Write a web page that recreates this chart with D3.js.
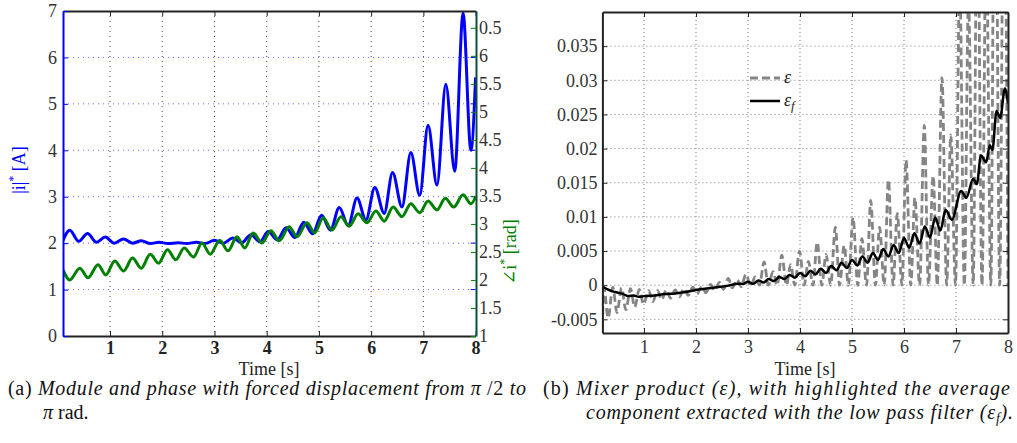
<!DOCTYPE html>
<html>
<head>
<meta charset="utf-8">
<script src="https://cdn.jsdelivr.net/npm/d3@7"></script>
<style>
  body { margin: 0; background: #fff; }
  svg, svg text { font-family: "Liberation Serif", "DejaVu Serif", serif; }
  svg { display: block; }
</style>
</head>
<body>
<svg id="fig" width="1017" height="443"></svg>
<script>
// ---- data ----
// panel (a): time ticks, magnitude ticks (left), phase ticks (right)
const timeTicks = [1, 2, 3, 4, 5, 6, 7, 8];
const magTicks = [0, 1, 2, 3, 4, 5, 6, 7];
const phaseTicks = [1, 1.5, 2, 2.5, 3, 3.5, 4, 4.5, 5, 5.5, 6, 6.5];
const phaseTickLabels = ["1", "1.5", "2", "2.5", "3", "3.5", "4", "4.5", "5", "5.5", "6", "0.5"];

// |i|* [A] -- peaks and troughs of the blue trace [t, value]
const magPts = [
  [0.10, 2.06], [0.23, 2.28], [0.40, 2.04], [0.57, 2.21], [0.74, 2.02], [0.91, 2.13],
  [1.08, 2.00], [1.26, 2.09], [1.43, 2.00], [1.60, 2.05], [1.77, 1.99], [1.94, 2.02],
  [2.11, 1.99], [2.30, 2.01], [2.47, 1.99], [2.65, 2.02], [2.82, 1.99], [3.00, 2.06],
  [3.17, 2.00], [3.35, 2.11], [3.52, 2.01], [3.70, 2.18], [3.87, 2.03], [4.03, 2.25],
  [4.20, 2.07], [4.37, 2.33], [4.54, 2.12], [4.71, 2.45], [4.88, 2.20], [5.05, 2.60],
  [5.22, 2.28], [5.39, 2.77], [5.56, 2.38], [5.73, 2.97], [5.90, 2.50], [6.07, 3.20],
  [6.25, 2.64], [6.41, 3.52], [6.59, 2.78], [6.76, 3.95], [6.93, 3.03], [7.09, 4.54],
  [7.26, 3.25], [7.43, 5.42], [7.60, 3.55], [7.76, 6.95], [7.91, 4.00], [8.00, 5.57]
];

// angle i* [rad] -- green trace [t, value]
const phasePts = [
  [0.10, 2.18], [0.23, 2.00], [0.42, 2.21], [0.58, 2.04], [0.77, 2.27], [0.92, 2.09],
  [1.09, 2.34], [1.26, 2.16], [1.43, 2.39], [1.60, 2.21], [1.77, 2.46], [1.93, 2.30],
  [2.10, 2.54], [2.26, 2.36], [2.42, 2.57], [2.60, 2.41], [2.76, 2.66], [2.92, 2.46],
  [3.10, 2.71], [3.26, 2.52], [3.43, 2.77], [3.58, 2.57], [3.74, 2.84], [3.91, 2.66],
  [4.08, 2.88], [4.24, 2.70], [4.43, 2.95], [4.58, 2.77], [4.77, 3.02], [4.92, 2.84],
  [5.08, 3.11], [5.25, 2.89], [5.42, 3.13], [5.58, 2.96], [5.75, 3.18], [5.92, 3.02],
  [6.09, 3.23], [6.25, 3.05], [6.42, 3.30], [6.59, 3.13], [6.76, 3.36], [6.93, 3.20],
  [7.09, 3.41], [7.26, 3.25], [7.42, 3.46], [7.58, 3.30], [7.76, 3.52], [7.91, 3.36],
  [8.00, 3.48]
];

// panel (b): mixer product ticks
const mixTicks = [-0.005, 0, 0.005, 0.01, 0.015, 0.02, 0.025, 0.03, 0.035];
const mixTickLabels = ["-0.005", "0", "0.005", "0.01", "0.015", "0.02", "0.025", "0.03", "0.035"];

// epsilon (grey dashed) -- extremes [t, value]
const mixPts = [
  [0.20, -0.0062], [0.23, -0.0004], [0.31, -0.0048], [0.40, -0.0003], [0.48, -0.0040],
  [0.57, -0.0004], [0.65, -0.0036], [0.74, -0.0005], [0.82, -0.0032], [0.91, -0.0006],
  [0.99, -0.0028], [1.09, -0.0008], [1.17, -0.0024], [1.26, -0.0008], [1.34, -0.0021],
  [1.43, -0.0007], [1.51, -0.0019], [1.60, -0.0007], [1.68, -0.0017], [1.77, -0.0005],
  [1.85, -0.0015], [1.94, -0.0003], [2.02, -0.0013], [2.11, -0.0002], [2.19, -0.0011],
  [2.28, 0.0001], [2.36, -0.0008], [2.45, 0.0004], [2.53, -0.0006], [2.62, 0.0010],
  [2.70, -0.0004], [2.79, 0.0008], [2.87, -0.0002], [2.96, 0.0016], [3.05, -0.0001],
  [3.14, 0.0012], [3.22, 0.0000], [3.31, 0.0034], [3.39, 0.0000], [3.48, 0.0020],
  [3.56, 0.0000], [3.65, 0.0044], [3.74, 0.0000], [3.82, 0.0030], [3.90, 0.0000],
  [3.99, 0.0050], [4.08, 0.0000], [4.16, 0.0035], [4.25, 0.0000], [4.33, 0.0063],
  [4.42, 0.0000], [4.50, 0.0045], [4.59, 0.0000], [4.68, 0.0085], [4.76, 0.0000],
  [4.85, 0.0058], [4.93, 0.0000], [5.02, 0.0099], [5.11, 0.0000], [5.19, 0.0068],
  [5.28, 0.0000], [5.36, 0.0124], [5.45, 0.0000], [5.53, 0.0085], [5.62, 0.0000],
  [5.70, 0.0154], [5.79, 0.0000], [5.87, 0.0105], [5.96, 0.0000], [6.04, 0.0183],
  [6.13, 0.0000], [6.21, 0.0128], [6.30, 0.0000], [6.39, 0.0234], [6.47, 0.0000],
  [6.56, 0.0160], [6.64, 0.0000], [6.73, 0.0304], [6.82, 0.0000], [6.90, 0.0220],
  [6.99, 0.0000], [7.07, 0.0450], [7.16, 0.0000], [7.24, 0.0420], [7.33, 0.0000],
  [7.41, 0.0600], [7.50, 0.0000], [7.58, 0.0520], [7.67, 0.0000], [7.75, 0.0800],
  [7.84, 0.0000], [7.92, 0.0650], [8.00, 0.0000]
];

// epsilon_f (black) -- low pass output [t, value]
const filtPts = [
  [0.20, -0.0002], [0.30, -0.0006], [0.40, -0.0009], [0.50, -0.0011], [0.60, -0.0013],
  [0.70, -0.0016], [0.80, -0.0015], [0.90, -0.0017], [1.00, -0.0016], [1.20, -0.0015],
  [1.40, -0.0013], [1.60, -0.0012], [1.80, -0.0010], [2.00, -0.0007], [2.20, -0.0005],
  [2.40, -0.0003], [2.60, -0.0001], [2.80, 0.0002], [2.90, 0.0002],
  [3.00, 0.0005], [3.10, 0.0002], [3.20, 0.0007], [3.30, 0.0004], [3.40, 0.0009],
  [3.50, 0.0006], [3.60, 0.0012], [3.70, 0.0009], [3.80, 0.0015], [3.90, 0.0011],
  [4.00, 0.0018], [4.10, 0.0013], [4.20, 0.0021], [4.30, 0.0016], [4.40, 0.0024],
  [4.50, 0.0018], [4.60, 0.0028], [4.70, 0.0022], [4.80, 0.0033], [4.90, 0.0025],
  [5.00, 0.0037], [5.10, 0.0029], [5.20, 0.0042], [5.30, 0.0033], [5.40, 0.0047],
  [5.50, 0.0037], [5.60, 0.0053], [5.70, 0.0042], [5.80, 0.0059], [5.90, 0.0047],
  [6.00, 0.0069], [6.10, 0.0055], [6.20, 0.0076], [6.30, 0.0061], [6.40, 0.0086],
  [6.50, 0.0070], [6.60, 0.0099], [6.70, 0.0080], [6.80, 0.0110], [6.92, 0.0096],
  [7.10, 0.0138], [7.20, 0.0128], [7.33, 0.0156], [7.40, 0.0148], [7.48, 0.0190],
  [7.58, 0.0180], [7.65, 0.0205], [7.70, 0.0198], [7.78, 0.0255], [7.85, 0.0245],
  [7.94, 0.0288], [8.00, 0.0266]
];

const svg = d3.select("#fig");
const tickColor = "#333";
const serif = '"Liberation Serif", "DejaVu Serif", serif';

// ================= panel (a) =================
const xA = d3.scaleLinear().domain([0.1, 8]).range([63, 475.6]);
const yA = d3.scaleLinear().domain([0, 7]).range([336, 11]);
const yA2 = d3.scaleLinear().domain([1, 6.8]).range([336, 11]);

const gA = svg.append("g");

svg.append("clipPath").attr("id", "clipA").append("rect")
  .attr("x", 63).attr("y", 11).attr("width", 413).attr("height", 325);
svg.append("clipPath").attr("id", "clipB").append("rect")
  .attr("x", 602).attr("y", 12).attr("width", 406).attr("height", 321);

// grid
gA.selectAll(".vgrid").data(timeTicks.filter(t => t < 8)).join("line")
  .attr("x1", d => xA(d)).attr("x2", d => xA(d))
  .attr("y1", yA(7)).attr("y2", yA(0))
  .attr("stroke", "#444").attr("stroke-width", 1).attr("stroke-dasharray", "1,4");
gA.selectAll(".hgrid").data(magTicks.filter(v => v > 0 && v < 7)).join("line")
  .attr("x1", xA(0.1)).attr("x2", xA(8))
  .attr("y1", d => yA(d)).attr("y2", d => yA(d))
  .attr("stroke", "#6b6bff").attr("stroke-width", 1).attr("stroke-dasharray", "1,4");

// traces
const lineMag = d3.line().x(d => xA(d[0])).y(d => yA(d[1])).curve(d3.curveMonotoneX);
const linePhase = d3.line().x(d => xA(d[0])).y(d => yA2(d[1])).curve(d3.curveMonotoneX);

gA.append("path").datum(magPts).attr("d", lineMag)
  .attr("clip-path", "url(#clipA)")
  .attr("fill", "none").attr("stroke", "#0000ff").attr("stroke-width", 3)
  .attr("stroke-linejoin", "round");
gA.append("path").datum(phasePts).attr("d", linePhase)
  .attr("clip-path", "url(#clipA)")
  .attr("fill", "none").attr("stroke", "#008000").attr("stroke-width", 3)
  .attr("stroke-linejoin", "round");

// axes
const axA_bottom = gA.append("g").attr("transform", "translate(0,336)")
  .call(d3.axisBottom(xA).tickValues(timeTicks).tickSizeInner(-5).tickSizeOuter(0)
    .tickPadding(5).tickFormat(d3.format("d")));
axA_bottom.select(".domain").attr("stroke", "#222").attr("stroke-width", 2);
axA_bottom.selectAll(".tick line").attr("stroke", "#222");
axA_bottom.selectAll("text").attr("font-size", 18).attr("font-weight", "bold")
  .attr("fill", "#222").attr("font-family", serif);

const axA_top = gA.append("g").attr("transform", "translate(0,11)")
  .call(d3.axisTop(xA).tickValues(timeTicks).tickSizeInner(-5).tickSizeOuter(0).tickFormat(""));
axA_top.select(".domain").attr("stroke", "#222").attr("stroke-width", 2);
axA_top.selectAll(".tick line").attr("stroke", "#222");

const axA_left = gA.append("g").attr("transform", "translate(63,0)")
  .call(d3.axisLeft(yA).tickValues(magTicks).tickSizeInner(-5).tickSizeOuter(0)
    .tickPadding(6).tickFormat(d3.format("d")));
axA_left.select(".domain").attr("stroke", "#0000ff").attr("stroke-width", 2);
axA_left.selectAll(".tick line").attr("stroke", "#0000ff");
axA_left.selectAll("text").attr("font-size", 18).attr("fill", tickColor)
  .attr("font-family", serif);

// blue ticks mirrored on the right side
gA.selectAll(".rtick").data(magTicks.filter(v => v > 0 && v < 7)).join("line")
  .attr("x1", xA(8) - 5).attr("x2", xA(8))
  .attr("y1", d => yA(d)).attr("y2", d => yA(d))
  .attr("stroke", "#0000ff");

const axA_right = gA.append("g").attr("transform", "translate(476,0)")
  .call(d3.axisRight(yA2).tickValues(phaseTicks).tickSizeInner(-5).tickSizeOuter(0)
    .tickPadding(3).tickFormat((d, i) => phaseTickLabels[i]));
axA_right.select(".domain").attr("stroke", "#0c4f3c").attr("stroke-width", 2);
axA_right.selectAll(".tick line").attr("stroke", "#008000");
axA_right.selectAll("text").attr("font-size", 18).attr("fill", tickColor)
  .attr("font-family", serif);

// axis titles
gA.append("text").attr("x", 269).attr("y", 375).attr("text-anchor", "middle")
  .attr("font-size", 18).attr("fill", "#222").text("Time [s]");

const ylabA = gA.append("text")
  .attr("transform", "translate(19,170) rotate(-90)")
  .attr("text-anchor", "middle").attr("dominant-baseline", "central")
  .attr("font-size", 18).attr("fill", "#0000ff");
ylabA.append("tspan").text("|i|");
ylabA.append("tspan").attr("font-size", 12).attr("dy", -6).text("*");
ylabA.append("tspan").attr("dy", 6).text(" [A]");

const ylabA2 = gA.append("text")
  .attr("transform", "translate(510,252) rotate(-90)")
  .attr("text-anchor", "middle").attr("dominant-baseline", "central")
  .attr("font-size", 18).attr("fill", "#008000");
ylabA2.append("tspan").text("\u2220i");
ylabA2.append("tspan").attr("font-size", 12).attr("dy", -6).text("*");
ylabA2.append("tspan").attr("dy", 6).text(" [rad]");

// ================= panel (b) =================
const xB = d3.scaleLinear().domain([0.2, 8]).range([602.4, 1008]);
const yB = d3.scaleLinear().domain([-0.007, 0.04]).range([333, 12]);

const gB = svg.append("g");

gB.selectAll(".vgrid").data(timeTicks.filter(t => t < 8)).join("line")
  .attr("x1", d => xB(d)).attr("x2", d => xB(d))
  .attr("y1", 12).attr("y2", 333)
  .attr("stroke", "#777").attr("stroke-width", 1).attr("stroke-dasharray", "1,3");
gB.selectAll(".hgrid").data(mixTicks).join("line")
  .attr("x1", 602.4).attr("x2", 1008)
  .attr("y1", d => yB(d)).attr("y2", d => yB(d))
  .attr("stroke", "#777").attr("stroke-width", 1).attr("stroke-dasharray", "1,3");

const lineMix = d3.line().x(d => xB(d[0])).y(d => yB(d[1])).curve(d3.curveMonotoneX);

gB.append("path").datum(mixPts).attr("d", lineMix)
  .attr("clip-path", "url(#clipB)")
  .attr("fill", "none").attr("stroke", "#858585").attr("stroke-width", 2.8)
  .attr("stroke-dasharray", "8,4");
gB.append("path").datum(filtPts).attr("d", lineMix)
  .attr("clip-path", "url(#clipB)")
  .attr("fill", "none").attr("stroke", "#000").attr("stroke-width", 2.5)
  .attr("stroke-linejoin", "round");

const axB_bottom = gB.append("g").attr("transform", "translate(0,333)")
  .call(d3.axisBottom(xB).tickValues(timeTicks).tickSizeInner(-5).tickSizeOuter(0)
    .tickPadding(7).tickFormat(d3.format("d")));
const axB_top = gB.append("g").attr("transform", "translate(0,12)")
  .call(d3.axisTop(xB).tickValues(timeTicks).tickSizeInner(-5).tickSizeOuter(0).tickFormat(""));
const axB_left = gB.append("g").attr("transform", "translate(602.4,0)")
  .call(d3.axisLeft(yB).tickValues(mixTicks).tickSizeInner(-5).tickSizeOuter(0)
    .tickPadding(5).tickFormat((d, i) => mixTickLabels[i]));
const axB_right = gB.append("g").attr("transform", "translate(1008,0)")
  .call(d3.axisRight(yB).tickValues(mixTicks).tickSizeInner(-5).tickSizeOuter(0).tickFormat(""));

[axB_bottom, axB_top, axB_left, axB_right].forEach(a => {
  a.select(".domain").attr("stroke", "#222").attr("stroke-width", 2);
  a.selectAll(".tick line").attr("stroke", "#222");
  a.selectAll("text").attr("font-size", 18).attr("fill", tickColor)
    .attr("font-family", serif);
});

gB.append("text").attr("x", 805).attr("y", 375).attr("text-anchor", "middle")
  .attr("font-size", 18).attr("fill", "#222").text("Time [s]");

// legend
const leg = gB.append("g");
leg.append("line").attr("x1", 750).attr("x2", 780).attr("y1", 78).attr("y2", 78)
  .attr("stroke", "#858585").attr("stroke-width", 2.8).attr("stroke-dasharray", "8,4");
leg.append("text").attr("x", 784).attr("y", 83).attr("font-size", 18)
  .attr("font-style", "italic").attr("fill", "#222").text("\u03b5");
leg.append("line").attr("x1", 750).attr("x2", 780).attr("y1", 101).attr("y2", 101)
  .attr("stroke", "#000").attr("stroke-width", 2.5);
const legT = leg.append("text").attr("x", 784).attr("y", 106).attr("font-size", 18)
  .attr("font-style", "italic").attr("fill", "#222");
legT.append("tspan").text("\u03b5");
legT.append("tspan").attr("font-size", 13).attr("dy", 4).text("f");

// ================= captions =================
const capA1 = svg.append("text").attr("x", 8).attr("y", 395).attr("font-size", 20)
  .attr("fill", "#111").attr("textLength", 518).attr("lengthAdjust", "spacing");
capA1.append("tspan").text("(a) ");
capA1.append("tspan").attr("font-style", "italic").text("Module and phase with forced displacement from ");
capA1.append("tspan").attr("font-style", "italic").text("\u03c0");
capA1.append("tspan").text(" /2 ");
capA1.append("tspan").attr("font-style", "italic").text("to");

const capA2 = svg.append("text").attr("x", 43).attr("y", 419).attr("font-size", 20).attr("fill", "#111");
capA2.append("tspan").attr("font-style", "italic").text("\u03c0");
capA2.append("tspan").text(" rad.");

const capB1 = svg.append("text").attr("x", 543).attr("y", 395).attr("font-size", 20)
  .attr("fill", "#111").attr("textLength", 467).attr("lengthAdjust", "spacing");
capB1.append("tspan").text("(b) ");
capB1.append("tspan").attr("font-style", "italic").text("Mixer product (\u03b5), with highlighted the average");

const capB2 = svg.append("text").attr("x", 586).attr("y", 419).attr("font-size", 20)
  .attr("fill", "#111").attr("textLength", 427).attr("lengthAdjust", "spacing");
capB2.append("tspan").attr("font-style", "italic").text("component extracted with the low pass filter (\u03b5");
capB2.append("tspan").attr("font-style", "italic").attr("font-size", 14).attr("dy", 4).text("f");
capB2.append("tspan").attr("font-style", "italic").attr("dy", -4).text(").");
</script>
</body>
</html>
